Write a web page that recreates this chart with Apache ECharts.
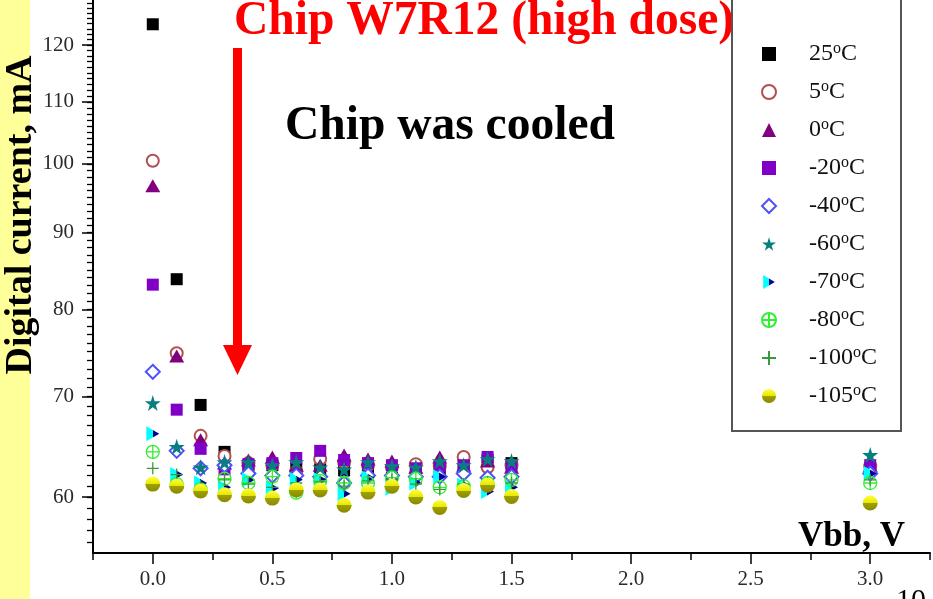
<!DOCTYPE html>
<html>
<head>
<meta charset="utf-8">
<script src="https://cdn.jsdelivr.net/npm/echarts@6.0.0/dist/echarts.min.js"></script>
<style>
  html, body { margin: 0; padding: 0; background: #fff; }
  #chart { width: 933px; height: 599px; }
</style>
</head>
<body>
<div id="chart"></div>
<script>
// Substrate bias voltage, V
const vbb = [0.0, 0.1, 0.2, 0.3, 0.4, 0.5, 0.6, 0.7, 0.8, 0.9, 1.0, 1.1, 1.2, 1.3, 1.4, 1.5, 3.0];

// Digital current (mA) at each temperature
const cur25   = [123.9, 83.8, 69.1, 64.3, 63.0, 63.0, 62.7, 62.6, 62.5, 62.8, 61.8, 62.6, 62.6, 62.9, 63.5, 63.2, 62.7];
const cur5    = [100.5, 74.8, 65.9, 63.9, 63.2, 63.0, 62.4, 63.6, 63.3, 63.0, 62.8, 63.1, 62.9, 63.8, 62.8, 63.0, 62.9];
const cur0    = [96.7, 74.5, 65.5, 63.2, 63.5, 63.8, 63.0, 63.0, 64.0, 63.6, 63.4, 62.8, 63.8, 63.0, 63.4, 62.8, 63.0];
const curM20  = [83.1, 68.6, 64.6, 62.6, 63.1, 63.2, 63.7, 64.4, 63.5, 63.2, 63.0, 62.7, 62.9, 63.0, 63.8, 62.9, 63.0];
const curM40  = [72.7, 64.4, 62.7, 63.0, 62.2, 62.0, 62.0, 61.9, 61.3, 62.0, 62.0, 61.9, 61.9, 62.2, 61.8, 61.9, 62.2];
const curM60  = [69.3, 64.8, 62.8, 63.3, 63.3, 63.0, 63.3, 62.8, 62.6, 63.3, 62.9, 62.8, 63.4, 63.0, 63.6, 63.4, 64.0];
const curM70  = [66.1, 62.1, 61.3, 60.9, 61.6, 60.8, 61.6, 61.6, 60.3, 61.8, 60.8, 61.3, 61.9, 61.1, 60.5, 60.9, 62.2];
const curM80  = [64.3, 61.2, 60.7, 61.7, 61.3, 61.9, 60.4, 61.5, 61.3, 61.3, 61.8, 61.7, 60.9, 61.0, 61.3, 61.6, 61.3];
const curM100 = [62.7, 62.1, 61.0, 61.6, 61.2, 60.9, 61.3, 61.4, 61.0, 61.5, 61.6, 61.2, 60.7, 61.2, 61.4, 61.3, 61.6];
const curM105 = [61.2, 61.0, 60.55, 60.2, 60.1, 59.9, 60.65, 60.65, 59.25, 60.45, 61.0, 60.0, 59.05, 60.6, 61.1, 60.05, 59.45];

const seriesNames = ['25°C', '5°C', '0°C', '-20°C', '-40°C', '-60°C', '-70°C', '-80°C', '-100°C', '-105°C'];
const seriesValues = [cur25, cur5, cur0, curM20, curM40, curM60, curM70, curM80, curM100, curM105];

// Axis ticks
const yMajorTicks = [60, 70, 80, 90, 100, 110, 120];
const yMinorTicks = [];
for (let v = 56; v <= 128; v++) yMinorTicks.push(v);
const xMajorTicks = [0, 0.5, 1.0, 1.5, 2.0, 2.5, 3.0];
const xMinorTicks = [-0.25, 0.25, 0.75, 1.25, 1.75, 2.25, 2.75, 3.25];

const SERIF = '"Liberation Serif", "Times New Roman", serif';
const G = echarts.graphic;

const starPath = 'path://M50,0 L61,35 L98,35 L68,57 L79,91 L50,70 L21,91 L32,57 L2,35 L39,35 Z';
const rightTriPath = 'path://M0,0 L10,6 L0,12 Z';
const crossCirclePath = 'path://M0,10 A10,10 0 1,1 20,10 A10,10 0 1,1 0,10 Z M10,0 L10,20 M0,10 L20,10';
const plusPath = 'path://M5,0 L5,10 M0,5 L10,5';

const markerStyles = [
  { symbol: 'rect', symbolSize: 12, itemStyle: { color: '#000000' } },
  { symbol: 'emptyCircle', symbolSize: 12, itemStyle: { color: '#b0504f', borderWidth: 1.3 } },
  { symbol: 'triangle', symbolSize: [15, 13], itemStyle: { color: '#800080' } },
  { symbol: 'rect', symbolSize: 12, itemStyle: { color: '#8000c8' } },
  { symbol: 'emptyDiamond', symbolSize: 14, itemStyle: { color: '#5050ff', borderWidth: 1.3 } },
  { symbol: starPath, symbolSize: 16, itemStyle: { color: '#087f7f' } },
  { symbol: rightTriPath, symbolSize: [13, 15], itemStyle: {
      color: new G.LinearGradient(0, 0, 1, 0, [
        { offset: 0, color: '#00ffff' }, { offset: 0.48, color: '#00ffff' },
        { offset: 0.48, color: '#000090' }, { offset: 1, color: '#000090' }
      ]) } },
  { symbol: crossCirclePath, symbolSize: 13, itemStyle: { color: 'rgba(0,0,0,0)', borderColor: '#33ee33', borderWidth: 1.3 } },
  { symbol: plusPath, symbolSize: 12, itemStyle: { color: 'rgba(0,0,0,0)', borderColor: '#3a9a3a', borderWidth: 1.3 } },
  { symbol: 'circle', symbolSize: 15, itemStyle: {
      color: new G.LinearGradient(0, 0, 0, 1, [
        { offset: 0, color: '#ffff40' }, { offset: 0.5, color: '#e6e600' },
        { offset: 0.5, color: '#a0a000' }, { offset: 1, color: '#8a8a00' }
      ]) } }
];

const series = seriesNames.map((name, i) => {
  const s = Object.assign({
    name: name,
    type: 'scatter',
    xAxisIndex: 0,
    yAxisIndex: 0,
    data: vbb.map((x, k) => [x, seriesValues[i][k]]),
    z: 2 + i
  }, markerStyles[i]);
  s.itemStyle = Object.assign({ opacity: 1 }, s.itemStyle);
  return s;
});

const chart = echarts.init(document.getElementById('chart'), null, { renderer: 'canvas' });

chart.setOption({
  backgroundColor: '#ffffff',
  animation: false,
  grid: { left: 93, right: 3, top: 0, bottom: 46, outerBoundsMode: 'none', containLabel: false },
  xAxis: [
    {
      type: 'value', min: -0.25, max: 3.25, position: 'bottom',
      axisLine: { show: true, onZero: false, lineStyle: { color: '#000', width: 2 } },
      axisTick: { show: true, customValues: xMajorTicks, length: 11, lineStyle: { color: '#000', width: 1.5 } },
      axisLabel: { show: true, customValues: xMajorTicks, margin: 16,
        formatter: v => v.toFixed(1),
        fontFamily: SERIF, fontSize: 21, color: '#2a2a2a' },
      splitLine: { show: false }
    },
    {
      type: 'value', min: -0.25, max: 3.25, position: 'bottom',
      axisLine: { show: false, onZero: false },
      axisTick: { show: true, customValues: xMinorTicks, length: 7, lineStyle: { color: '#000', width: 1.5 } },
      axisLabel: { show: false },
      splitLine: { show: false }
    }
  ],
  yAxis: [
    {
      type: 'log', logBase: 10, min: 55.06, max: 128.6, position: 'left',
      axisLine: { show: true, onZero: false, lineStyle: { color: '#000', width: 2 } },
      axisTick: { show: true, customValues: yMajorTicks, length: 11, lineStyle: { color: '#000', width: 1.5 } },
      axisLabel: { show: true, customValues: yMajorTicks, margin: 19,
        formatter: v => String(Math.round(v)),
        fontFamily: SERIF, fontSize: 21, color: '#2a2a2a' },
      splitLine: { show: false }
    },
    {
      type: 'log', logBase: 10, min: 55.06, max: 128.6, position: 'left',
      axisLine: { show: false, onZero: false },
      axisTick: { show: true, customValues: yMinorTicks, length: 6, lineStyle: { color: '#000', width: 1.3 } },
      axisLabel: { show: false },
      splitLine: { show: false }
    }
  ],
  legend: {
    orient: 'vertical',
    left: 732,
    top: -6,
    padding: [47, 24, 22, 29],
    itemWidth: 14,
    itemHeight: 14,
    itemGap: 12,
    borderColor: '#555',
    borderWidth: 2,
    backgroundColor: '#fff',
    data: seriesNames,
    formatter: name => '{pad| }' + name.replace('°C', '') + '{sup|o}C',
    textStyle: {
      fontFamily: SERIF, fontSize: 24, color: '#111', lineHeight: 24,
      rich: {
        pad: { width: 28, fontSize: 24, lineHeight: 24 },
        sup: { fontSize: 16, lineHeight: 14, padding: [0, 0, 10, 0], fontFamily: SERIF, color: '#111' }
      }
    }
  },
  graphic: [
    { type: 'rect', x: 0, y: 0, shape: { x: 0, y: 0, width: 30, height: 599 }, style: { fill: '#ffff99' }, z: -10 },
    { type: 'text', x: 21, y: 215, rotation: Math.PI / 2,
      style: { text: 'Digital current, mA', align: 'center', verticalAlign: 'middle',
        fontFamily: SERIF, fontWeight: 'bold', fontSize: 38, fill: '#000' } },
    { type: 'line', shape: { x1: 237.5, y1: 48, x2: 237.5, y2: 346 }, style: { stroke: '#ff0000', lineWidth: 9 } },
    { type: 'polygon', shape: { points: [[223, 345], [252, 345], [237.5, 375]] }, style: { fill: '#ff0000' } },
    { type: 'text', x: 234, y: 22,
      style: { text: 'Chip W7R12 (high dose)', align: 'left', verticalAlign: 'middle',
        fontFamily: SERIF, fontWeight: 'bold', fontSize: 47.5, fill: '#ff0000' } },
    { type: 'text', x: 285, y: 127,
      style: { text: 'Chip was cooled', align: 'left', verticalAlign: 'middle',
        fontFamily: SERIF, fontWeight: 'bold', fontSize: 47.5, fill: '#000' } },
    { type: 'text', x: 905, y: 537,
      style: { text: 'Vbb, V', align: 'right', verticalAlign: 'middle',
        fontFamily: SERIF, fontWeight: 'bold', fontSize: 35, fill: '#000' } },
    { type: 'text', x: 896, y: 586,
      style: { text: '10', align: 'left', verticalAlign: 'top',
        fontFamily: SERIF, fontSize: 30, fill: '#000' } }
  ],
  series: series
});
</script>
</body>
</html>
